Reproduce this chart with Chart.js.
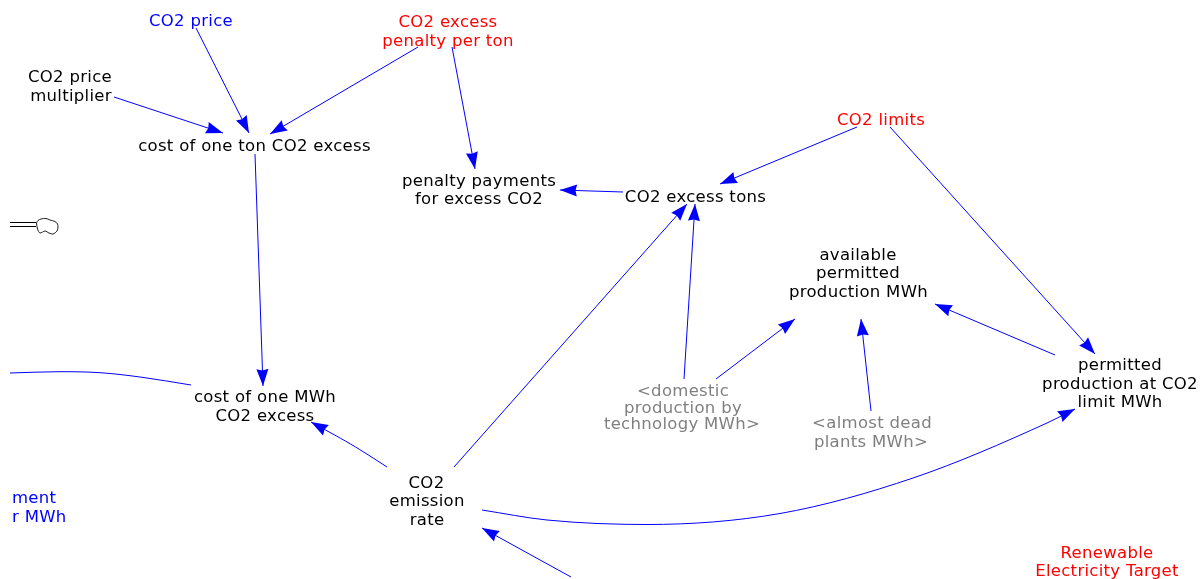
<!DOCTYPE html>
<html><head><meta charset="utf-8">
<style>html,body{margin:0;padding:0;background:#fff;overflow:hidden}canvas{display:block}</style>
<script src="https://cdn.jsdelivr.net/npm/chart.js@4/dist/chart.umd.min.js"></script>
</head><body><canvas id="c" width="1200" height="579"></canvas>
<script>
// Arrows of the diagram: [x, y] from the tail to the tip
const priceToCost = [[196,28],[249,133]];
const multiplierToCost = [[114,97],[223,133]];
const penaltyToCost = [[418,47],[270,134]];
const penaltyToPayments = [[452,47],[475,169]];
const tonsToPayments = [[623,192],[560,190]];
const limitsToTons = [[857,127],[720,184]];
const limitsToPermitted = [[890,127],[1095,354]];
const permittedToAvailable = [[1055,355],[935,304]];
const deadToAvailable = [[871,411],[861,319]];
const domesticToAvailable = [[716,379],[795,319]];
const domesticToTons = [[684,379],[695,204]];
const rateToTons = [[454,467],[687,204]];
const tonCostToMwhCost = [[255,154],[263,386]];
const rateToMwhCost = [[387,467],[369,455.4],[350.5,444],[331,433],[311,422]];
const rateToPermitted = [[482,510],[547,520],[647,524.5],[780,513.5],[913,478],[1047,423],[1075,409]];
const belowToRate = [[571,577],[482,528]];
const offscreenToMwhCost = [[10,373],[60,371.7],[100,372.7],[140,377],[191,385]];
const cloudOutline = [[36.5,223],[38,220.5],[41,219],[46,218.5],[50,220],[55,221.5],[57.5,224],[58,227],[57,231],[53,234],[49,233],[45,231],[40,233],[37.5,229],[36.5,223]];
const pipeTop = [[10,222.5],[36,222.5]];
const pipeBottom = [[10,226.5],[36,226.5]];

const headedLinks = [priceToCost,multiplierToCost,penaltyToCost,penaltyToPayments,tonsToPayments,limitsToTons,limitsToPermitted,permittedToAvailable,deadToAvailable,domesticToAvailable,domesticToTons,rateToTons,tonCostToMwhCost,rateToMwhCost,rateToPermitted,belowToRate];

// Text, one entry per line, with the anchor
const blackText = ["CO2 price","multiplier","cost of one ton CO2 excess","penalty payments","for excess CO2","CO2 excess tons","available","permitted","production MWh","permitted","production at CO2","limit MWh","cost of one MWh","CO2 excess","CO2","emission","rate"];
const blackAt = [[70,78],[71,97],[254.5,147],[479,182],[479,200],[695.5,198],[858,256],[858,274],[858.5,293],[1120,366],[1120,385],[1120,403],[265,398],[265,417],[426.5,484],[427,502],[427,521]];
const redText = ["CO2 excess","penalty per ton","CO2 limits","Renewable","Electricity Target"];
const redAt = [[448,23],[448,42],[881,121],[1107,554],[1107,572]];
const blueText = ["CO2 price"];
const blueAt = [[191,22]];
const blueLeftText = ["ment","r MWh"];
const blueLeftAt = [[12,499],[12,518]];
const greyText = ["<domestic","production by","technology MWh>","<almost dead","plants MWh>"];
const greyAt = [[683,392],[683,409],[682,425],[872,424],[871,443]];

const BLUE = "#0000ff";
const toPts = a => a.map(p => ({x:p[0], y:p[1]}));
const linkSet = (pts, tension, color) => ({data:toPts(pts), showLine:true, borderColor:color||BLUE, borderWidth:1, pointRadius:0, tension:tension||0, fill:false, clip:false});

const datasets = [];
headedLinks.forEach(l => {
  const s = linkSet(l, l.length>2?0.4:0);
  s.arrow = true;
  if(l === rateToPermitted) s.cubicInterpolationMode = "monotone";
  datasets.push(s);
});
const offscreen = linkSet(offscreenToMwhCost, 0.4); offscreen.cubicInterpolationMode = "monotone"; datasets.push(offscreen);
datasets.push(linkSet(pipeTop, 0, "#000000"));
datasets.push(linkSet(pipeBottom, 0, "#000000"));
datasets.push(linkSet(cloudOutline, 0.3, "#222222"));

const textGroups = [
  {text:blackText, at:blackAt, color:"#000000", align:"center"},
  {text:redText, at:redAt, color:"#ff0000", align:"center"},
  {text:blueText, at:blueAt, color:"#0000ff", align:"center"},
  {text:blueLeftText, at:blueLeftAt, color:"#0000ff", align:"left"},
  {text:greyText, at:greyAt, color:"#808080", align:"center"}
];

const diagramPlugin = {
  id:"diagram",
  afterDatasetsDraw(chart){
    const {ctx, scales:{x, y}} = chart;
    ctx.save();
    chart.data.datasets.forEach((ds) => {
      if(!ds.arrow) return;
      const n = ds.data.length;
      const tip = ds.data[n-1], prev = ds.data[n-2];
      const tx = x.getPixelForValue(tip.x), ty = y.getPixelForValue(tip.y);
      const a = Math.atan2(ty - y.getPixelForValue(prev.y), tx - x.getPixelForValue(prev.x));
      ctx.save();
      ctx.translate(tx, ty); ctx.rotate(a);
      ctx.beginPath();
      ctx.moveTo(0,0); ctx.lineTo(-17,-6); ctx.lineTo(-15.5,0); ctx.lineTo(-17,6); ctx.closePath();
      ctx.fillStyle = BLUE; ctx.fill();
      ctx.restore();
    });
    ctx.font = '16.5px "DejaVu Sans"';
    ctx.letterSpacing = "0.3px";
    ctx.textBaseline = "middle";
    textGroups.forEach(g => {
      ctx.fillStyle = g.color; ctx.textAlign = g.align;
      g.text.forEach((t,i) => ctx.fillText(t, x.getPixelForValue(g.at[i][0]), y.getPixelForValue(g.at[i][1])));
    });
    ctx.restore();
  }
};

new Chart(document.getElementById("c"), {
  type:"scatter",
  data:{datasets},
  plugins:[diagramPlugin],
  options:{
    responsive:false, animation:false, events:[],
    layout:{padding:0},
    plugins:{legend:{display:false}, tooltip:{enabled:false}, title:{display:false}},
    scales:{
      x:{type:"linear", min:0, max:1200, display:false},
      y:{type:"linear", min:0, max:579, reverse:true, display:false}
    }
  }
});
</script></body></html>
